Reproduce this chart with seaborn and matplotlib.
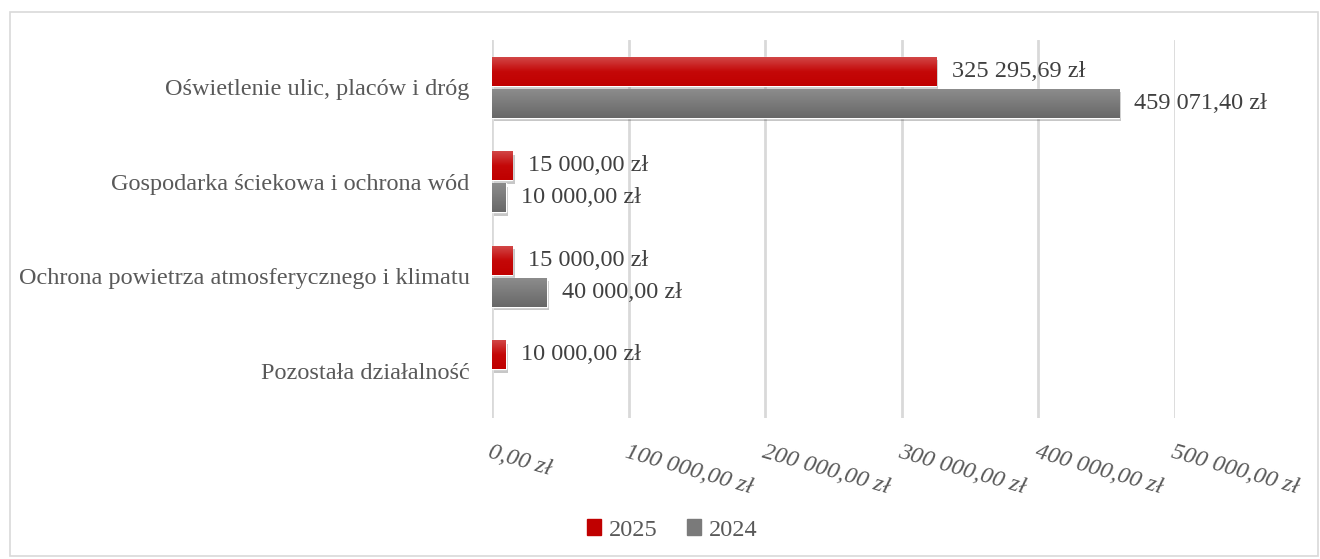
import numpy as np
import pandas as pd
import matplotlib
matplotlib.use("Agg")
import matplotlib.pyplot as plt
import matplotlib.patheffects as pe
from matplotlib.patches import Rectangle
from matplotlib.colors import LinearSegmentedColormap
import seaborn as sns

categories = ["Oświetlenie ulic, placów i dróg",
              "Gospodarka ściekowa i ochrona wód",
              "Ochrona powietrza atmosferycznego i klimatu",
              "Pozostała działalność"]
values_2025 = [325295.69, 15000.00, 15000.00, 10000.00]
values_2024 = [459071.40, 10000.00, 40000.00, np.nan]
series = ["2025", "2024"]
xticks = [0, 100000, 200000, 300000, 400000, 500000]

colors = {"2025": "#C00000", "2024": "#7A7A7A"}
gradients = {"#C00000": ["#D24646", "#C40808", "#C00000"],
             "#7A7A7A": ["#8C8C8C", "#7A7A7A", "#686868"]}
text_color = "#595959"


def pln(v):
    s = f"{v:,.2f}"
    s = s.replace(",", " ").replace(".", ",")
    return s + " zł"


df = pd.DataFrame({
    "category": categories * 2,
    "year": ["2025"] * len(categories) + ["2024"] * len(categories),
    "value": values_2025 + values_2024,
})

sns.set_style("white")
plt.rcParams["font.family"] = ["Liberation Serif", "DejaVu Serif"]

fig = plt.figure(figsize=(13.2, 5.59), dpi=100)
ax = fig.add_axes([0.3727, 0.2522, 0.5174, 0.676])

sns.barplot(data=df, y="category", x="value", hue="year", order=categories,
            hue_order=series, palette=colors, orient="h", width=0.68, gap=0.1,
            ax=ax, legend=False, saturation=1)

ax.set_xlim(0, 500000)
ax.set_ylim(3.5, -0.5)

grad = np.linspace(0, 1, 64).reshape(-1, 1)
for p in list(ax.patches):
    p.set_path_effects([pe.SimplePatchShadow(offset=(1.5, -2.5), alpha=0.22, shadow_rgbFace="black"),
                        pe.Normal()])
    w = p.get_width()
    if np.isnan(w) or w == 0:
        continue
    fc = matplotlib.colors.to_hex(p.get_facecolor())
    cm = LinearSegmentedColormap.from_list("g", gradients.get(fc.upper(), [fc, fc]))
    x0, y0 = p.get_x(), p.get_y()
    h = p.get_height()
    im = ax.imshow(grad, cmap=cm, aspect="auto", extent=(x0, x0 + w, y0 + h, y0),
                   origin="upper", zorder=p.get_zorder() + 0.1, interpolation="bilinear")
    im.set_clip_path(p)

ax.set_xlim(0, 500000)
ax.set_ylim(3.5, -0.5)

fs = 17.5
for cont in ax.containers:
    labels = ["" if np.isnan(v) else pln(v) for v in cont.datavalues]
    ax.bar_label(cont, labels=labels, padding=11, fontsize=fs, color="#404040")

ax.set_xticks(xticks)
ax.set_xticklabels([pln(v) for v in xticks], rotation=-16, ha="left", va="top",
                   rotation_mode="anchor", fontsize=fs, style="italic", color=text_color)
ax.tick_params(axis="x", length=0, pad=17)
ax.tick_params(axis="y", length=0, pad=16, labelsize=fs, labelcolor=text_color)
ax.set_xlabel("")
ax.set_ylabel("")
ax.grid(axis="x", color="#D9D9D9", linewidth=2)
ax.set_axisbelow(True)
for s in ax.spines.values():
    s.set_visible(False)

handles = [Rectangle((0, 0), 1, 1, color=colors[s]) for s in series]
fig.legend(handles, series, loc="center", bbox_to_anchor=(0.509, 0.052), ncol=2,
           frameon=False, fontsize=fs, handlelength=0.6, handleheight=0.6,
           handletextpad=0.3, columnspacing=1.2, labelcolor=text_color)

fig.patches.append(Rectangle((10 / 1320, 3 / 559), 1308 / 1320, 544 / 559,
                             transform=fig.transFigure, fill=False,
                             edgecolor="#D9D9D9", linewidth=1.2))

fig.savefig("out.png", dpi=100)
